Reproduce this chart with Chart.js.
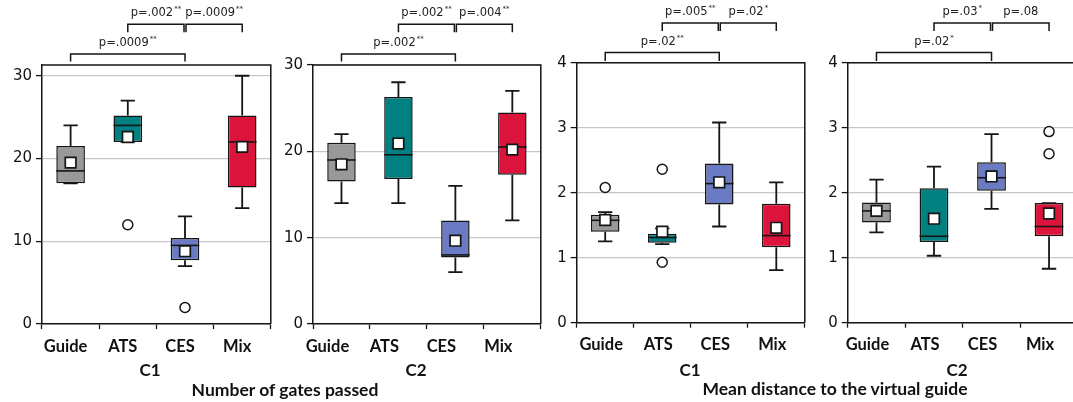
<!DOCTYPE html>
<html>
<head>
<meta charset="utf-8">
<script src="https://cdn.jsdelivr.net/npm/chart.js@4/dist/chart.umd.min.js"></script>
<style>
  html, body { margin:0; padding:0; background:#fff; }
  body { width:1073px; height:402px; overflow:hidden; position:relative; }
  .panel { position:absolute; top:0; height:402px; }
  .lbl { position:absolute; transform:translate(-50%,-50%); font-family:Lato, sans-serif; font-weight:bold; font-size:17px; color:#111; white-space:nowrap; line-height:1; }
  .ttl { font-size:17.5px; }
</style>
</head>
<body>
<div class="panel" style="left:0px;width:280px"><canvas id="c1" width="280" height="402"></canvas></div>
<div class="panel" style="left:280px;width:270px"><canvas id="c2" width="270" height="402"></canvas></div>
<div class="panel" style="left:548px;width:266px"><canvas id="c3" width="266" height="402"></canvas></div>
<div class="panel" style="left:812px;width:275px"><canvas id="c4" width="275" height="402"></canvas></div>
<div class="lbl" style="left:150px;top:369px">C1</div>
<div class="lbl" style="left:416px;top:369px">C2</div>
<div class="lbl ttl" style="left:285px;top:390px">Number of gates passed</div>
<div class="lbl" style="left:690px;top:369px">C1</div>
<div class="lbl" style="left:957px;top:369px">C2</div>
<div class="lbl ttl" style="left:835px;top:389px">Mean distance to the virtual guide</div>
<script>
// ---------- DATA ----------
const categories = ['Guide', 'ATS', 'CES', 'Mix'];
const comparisons = [['Guide', 'CES'], ['ATS', 'CES'], ['CES', 'Mix']];
const yTicksGates = [0, 10, 20, 30];
const yTicksDist = [0, 1, 2, 3, 4];

// Number of gates passed, C1
const gatesC1Low    = [17, 22, 7, 14];
const gatesC1Q1     = [17, 22, 7.7, 16.5];
const gatesC1Median = [18.5, 24, 9.5, 22];
const gatesC1Q3     = [21.5, 25.2, 10.4, 25.2];
const gatesC1High   = [24, 27, 13, 30];
const gatesC1Mean   = [19.5, 22.6, 8.8, 21.4];
const gatesC1Outliers = [['ATS', 12], ['CES', 2]];
const gatesC1P      = ['.0009', '.002', '.0009'];
const gatesC1Stars  = ['**', '**', '**'];

// Number of gates passed, C2
const gatesC2Low    = [14, 14, 6, 12];
const gatesC2Q1     = [16.5, 16.8, 7.7, 17.3];
const gatesC2Median = [19, 19.6, 8, 20.5];
const gatesC2Q3     = [21, 26.3, 12, 24.5];
const gatesC2High   = [22, 28, 16, 27];
const gatesC2Mean   = [18.5, 20.9, 9.65, 20.2];
const gatesC2Outliers = [];
const gatesC2P      = ['.002', '.002', '.004'];
const gatesC2Stars  = ['**', '**', '**'];

// Mean distance to the virtual guide, C1
const distC1Low    = [1.25, 1.21, 1.48, 0.81];
const distC1Q1     = [1.4, 1.23, 1.82, 1.16];
const distC1Median = [1.575, 1.31, 2.14, 1.34];
const distC1Q3     = [1.66, 1.37, 2.45, 1.83];
const distC1High   = [1.7, 1.45, 3.08, 2.16];
const distC1Mean   = [1.58, 1.4, 2.16, 1.46];
const distC1Outliers = [['Guide', 2.08], ['ATS', 2.36], ['ATS', 0.93]];
const distC1P      = ['.02', '.005', '.02'];
const distC1Stars  = ['**', '**', '*'];

// Mean distance to the virtual guide, C2
const distC2Low    = [1.39, 1.03, 1.75, 0.83];
const distC2Q1     = [1.54, 1.24, 2.03, 1.33];
const distC2Median = [1.72, 1.33, 2.23, 1.48];
const distC2Q3     = [1.85, 2.07, 2.47, 1.84];
const distC2High   = [2.2, 2.4, 2.9, 1.84];
const distC2Mean   = [1.72, 1.6, 2.25, 1.68];
const distC2Outliers = [['Mix', 2.6], ['Mix', 2.94]];
const distC2P      = ['.02', '.03', '.08'];
const distC2Stars  = ['*', '*', ''];

// ---------- STYLE / LAYOUT ----------
const boxColors = ['#999999', '#008080', '#6a7bc4', '#dc143c'];
const INK = '#151515';

const panels = [
  { id:'c1', low:gatesC1Low, q1:gatesC1Q1, med:gatesC1Median, q3:gatesC1Q3, high:gatesC1High, mean:gatesC1Mean, out:gatesC1Outliers, p:gatesC1P, stars:gatesC1Stars,
    ticks:yTicksGates, ymax:31.3, yW:42, padR:4, padT:65, xH:78, labelOffset:-5,
    brLow:54, brLowTick:61.5, brUp:24.3, brUpTick:32.3, txtLow:43, txtUp:13.5 },
  { id:'c2', low:gatesC2Low, q1:gatesC2Q1, med:gatesC2Median, q3:gatesC2Q3, high:gatesC2High, mean:gatesC2Mean, out:gatesC2Outliers, p:gatesC2P, stars:gatesC2Stars,
    ticks:yTicksGates, ymax:30, yW:33, padR:3.3, padT:65, xH:78, labelOffset:-14,
    brLow:54, brLowTick:61.5, brUp:24.3, brUpTick:32.3, txtLow:43, txtUp:13.5 },
  { id:'c3', low:distC1Low, q1:distC1Q1, med:distC1Median, q3:distC1Q3, high:distC1High, mean:distC1Mean, out:distC1Outliers, p:distC1P, stars:distC1Stars,
    ticks:yTicksDist, ymax:4, yW:28.7, padR:4, padT:62.7, xH:79.3, labelOffset:-4,
    brLow:52.5, brLowTick:61, brUp:23, brUpTick:31, txtLow:42.5, txtUp:12.5 },
  { id:'c4', low:distC2Low, q1:distC2Q1, med:distC2Median, q3:distC2Q3, high:distC2High, mean:distC2Mean, out:distC2Outliers, p:distC2P, stars:distC2Stars,
    ticks:yTicksDist, ymax:4, yW:35.7, padR:5.7, padT:62.7, xH:79.3, labelOffset:-9,
    brLow:52.5, brLowTick:61, brUp:23, brUpTick:31, txtLow:42.5, txtUp:12.5 }
];

function makePlugin(P) {
  return {
    id: 'boxExtras_' + P.id,
    afterDatasetDraw(chart, args) {
      if (args.index !== 0) return;
      const ctx = chart.ctx, y = chart.scales.y;
      const meta = chart.getDatasetMeta(0);
      ctx.save();
      ctx.strokeStyle = INK;
      meta.data.forEach((bar, i) => {
        const cx = bar.x, half = bar.width / 2, cap = bar.width / 4;
        const yl = y.getPixelForValue(P.low[i]), y1 = y.getPixelForValue(P.q1[i]);
        const y3 = y.getPixelForValue(P.q3[i]), yh = y.getPixelForValue(P.high[i]);
        const ym = y.getPixelForValue(P.med[i]);
        ctx.lineWidth = 1.8;
        ctx.beginPath();
        ctx.moveTo(cx, y1); ctx.lineTo(cx, yl);
        ctx.moveTo(cx, y3); ctx.lineTo(cx, yh);
        ctx.moveTo(cx - cap, yl); ctx.lineTo(cx + cap, yl);
        ctx.moveTo(cx - cap, yh); ctx.lineTo(cx + cap, yh);
        ctx.stroke();
        ctx.lineWidth = 1.6;
        ctx.beginPath();
        ctx.moveTo(cx - half, ym); ctx.lineTo(cx + half, ym);
        ctx.stroke();
      });
      ctx.restore();
    },
    afterDraw(chart) {
      const ctx = chart.ctx, a = chart.chartArea, x = chart.scales.x;
      ctx.save();
      ctx.strokeStyle = INK;
      ctx.lineWidth = 1.5;
      ctx.beginPath();
      ctx.moveTo(a.left, a.top); ctx.lineTo(a.right, a.top); ctx.lineTo(a.right, a.bottom);
      ctx.stroke();
      // significance brackets
      comparisons.forEach((pair, k) => {
        let x1 = x.getPixelForValue(categories.indexOf(pair[0]));
        let x2 = x.getPixelForValue(categories.indexOf(pair[1]));
        let yb, yt, ty;
        if (k === 0) { yb = P.brLow; yt = P.brLowTick; ty = P.txtLow; }
        else { yb = P.brUp; yt = P.brUpTick; ty = P.txtUp;
               if (k === 1) x2 -= 1; else x1 += 1; }
        ctx.lineWidth = 1.5;
        ctx.beginPath();
        ctx.moveTo(x1, yt); ctx.lineTo(x1, yb); ctx.lineTo(x2, yb); ctx.lineTo(x2, yt);
        ctx.stroke();
        const main = 'p=' + P.p[k], st = P.stars[k];
        ctx.font = '11.5px "DejaVu Sans"';
        const w1 = ctx.measureText(main).width;
        ctx.font = '7px "DejaVu Sans"';
        const w2 = st ? ctx.measureText(st).width + 1 : 0;
        const cx = (x1 + x2) / 2, sx = cx - (w1 + w2) / 2;
        ctx.fillStyle = '#222';
        ctx.textBaseline = 'middle';
        ctx.textAlign = 'left';
        ctx.font = '11.5px "DejaVu Sans"';
        ctx.fillText(main, sx, ty);
        if (st) { ctx.font = '7px "DejaVu Sans"'; ctx.fillText(st, sx + w1 + 1, ty - 4); }
      });
      ctx.restore();
    }
  };
}

panels.forEach(P => {
  const ctx = document.getElementById(P.id);
  new Chart(ctx, {
    type: 'bar',
    data: {
      labels: categories,
      datasets: [
        { type:'bar', data: P.q1.map((v, i) => [v, P.q3[i]]), backgroundColor: boxColors,
          borderColor: INK, borderWidth: 1.5, borderSkipped: false,
          barPercentage: 0.5, categoryPercentage: 1, order: 3 },
        { type:'line', data: P.out.map(o => ({ x: o[0], y: o[1] })), showLine: false,
          pointStyle: 'circle', pointRadius: 5, pointBackgroundColor: '#fff',
          pointBorderColor: INK, pointBorderWidth: 1.5, order: 2 },
        { type:'line', data: P.mean, showLine: false, pointStyle: 'rect', pointRadius: 7.5,
          pointBackgroundColor: '#fff', pointBorderColor: INK, pointBorderWidth: 1.7, order: 1 }
      ]
    },
    options: {
      responsive: false,
      animation: false,
      layout: { padding: { left: 0, right: P.padR, top: P.padT, bottom: 0 } },
      plugins: { legend: { display: false }, tooltip: { enabled: false } },
      scales: {
        x: {
          type: 'category', offset: true,
          grid: { drawOnChartArea: false, drawTicks: true, tickLength: 5, tickColor: INK, tickWidth: 1.3 },
          border: { color: INK, width: 1.5 },
          ticks: { color: '#111', font: { family: 'Lato', weight: 'bold', size: 16.5 }, padding: 7.5, labelOffset: P.labelOffset },
          afterFit: s => { s.height = P.xH; }
        },
        y: {
          min: 0, max: P.ymax,
          grid: { color: '#c6c6c6', lineWidth: 1.2, drawTicks: true, tickLength: 6, tickColor: INK, tickWidth: 1.3 },
          border: { color: INK, width: 1.5 },
          ticks: { color: '#111', font: { family: 'DejaVu Sans', size: 15 }, padding: 4 },
          afterBuildTicks: s => { s.ticks = P.ticks.map(v => ({ value: v })); },
          afterFit: s => { s.width = P.yW; }
        }
      }
    },
    plugins: [makePlugin(P)]
  });
});
</script>
</body>
</html>
